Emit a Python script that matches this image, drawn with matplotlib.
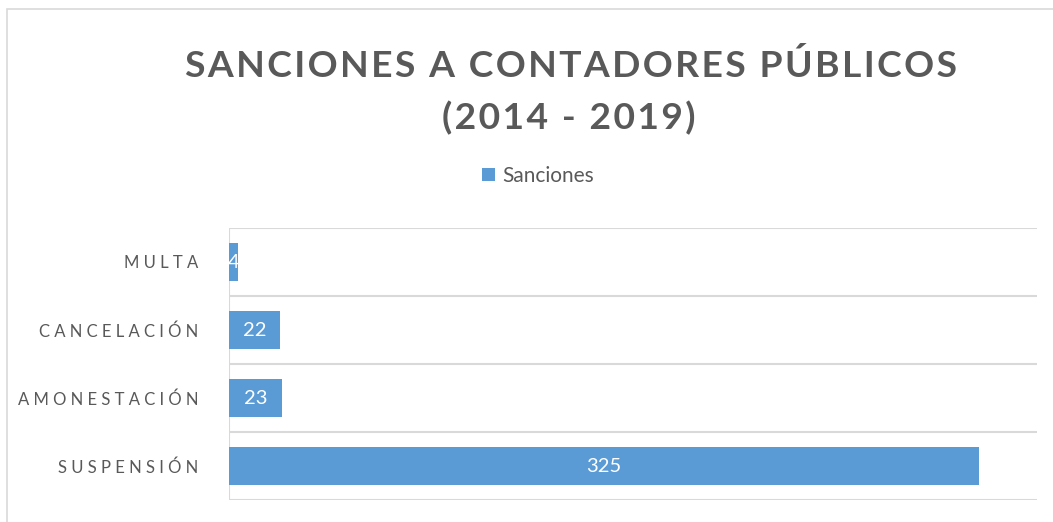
import matplotlib
matplotlib.use("Agg")
import matplotlib.pyplot as plt
from matplotlib.patches import Rectangle

# --------------------------------------------------
# DATA
# --------------------------------------------------
categories = ["SUSPENSIÓN", "AMONESTACIÓN", "CANCELACIÓN", "MULTA"]
values = [325, 23, 22, 4]
series_name = "Sanciones"
title_lines = ["SANCIONES A CONTADORES PÚBLICOS", "(2014 - 2019)"]

BLUE = "#5B9BD5"
GRAY = "#595959"
GRID = "#D9D9D9"
FONT = ["Lato", "DejaVu Sans"]


def spaced(s, sep=" "):
    # fake letter spacing
    return sep.join(s)


def main():
    plt.rcParams["font.family"] = FONT
    fig = plt.figure(figsize=(10.53, 5.22), dpi=100)

    # outer chart frame (runs off the right/bottom edge)
    fig.patches.append(Rectangle((7 / 1053, -0.1), 1.2, 1 - 9 / 522 + 0.1,
                                 transform=fig.transFigure, fill=False,
                                 edgecolor=GRID, linewidth=1.2))

    ax = fig.add_axes([229 / 1053, 1 - 500 / 522, (1037 - 229) / 1053, 272 / 522])

    y = list(range(len(categories)))
    bars = ax.barh(y, values, height=0.56, color=BLUE, label=series_name, zorder=3)

    for b, v in zip(bars, values):
        ax.text(b.get_x() + b.get_width() / 2, b.get_y() + b.get_height() / 2,
                str(v), color="white", ha="center", va="center", fontsize=14.5, zorder=4)

    ax.set_xlim(0, 350)
    ax.set_ylim(-0.5, len(categories) - 0.5)

    # horizontal separators between categories
    for k in range(len(categories) + 1):
        ax.axhline(k - 0.5, color=GRID, linewidth=1.5, zorder=1)
    ax.axvline(0, color=GRID, linewidth=1.5, zorder=2)

    for s in ax.spines.values():
        s.set_visible(False)
    ax.set_xticks([])
    ax.set_yticks(y)
    ax.set_yticklabels([spaced(c) for c in categories], color=GRAY, fontsize=12)
    ax.tick_params(axis="y", length=0, pad=22)

    # title
    sep = "\u200a"
    fig.text(571 / 1053, 1 - 77 / 522, spaced(title_lines[0], sep), ha="center",
             va="baseline", fontsize=26.8, fontweight="bold", color=GRAY)
    fig.text(569 / 1053, 1 - 129 / 522, spaced(title_lines[1], sep), ha="center",
             va="baseline", fontsize=26.8, fontweight="bold", color=GRAY)

    fig.legend(handles=[bars], labels=[series_name], loc="center",
               bbox_to_anchor=(538 / 1053, 1 - 176 / 522), frameon=False,
               fontsize=15, handlelength=0.6, handleheight=0.6,
               handletextpad=0.35, labelcolor=GRAY)

    fig.savefig("out.png", dpi=100)


if __name__ == "__main__":
    main()
